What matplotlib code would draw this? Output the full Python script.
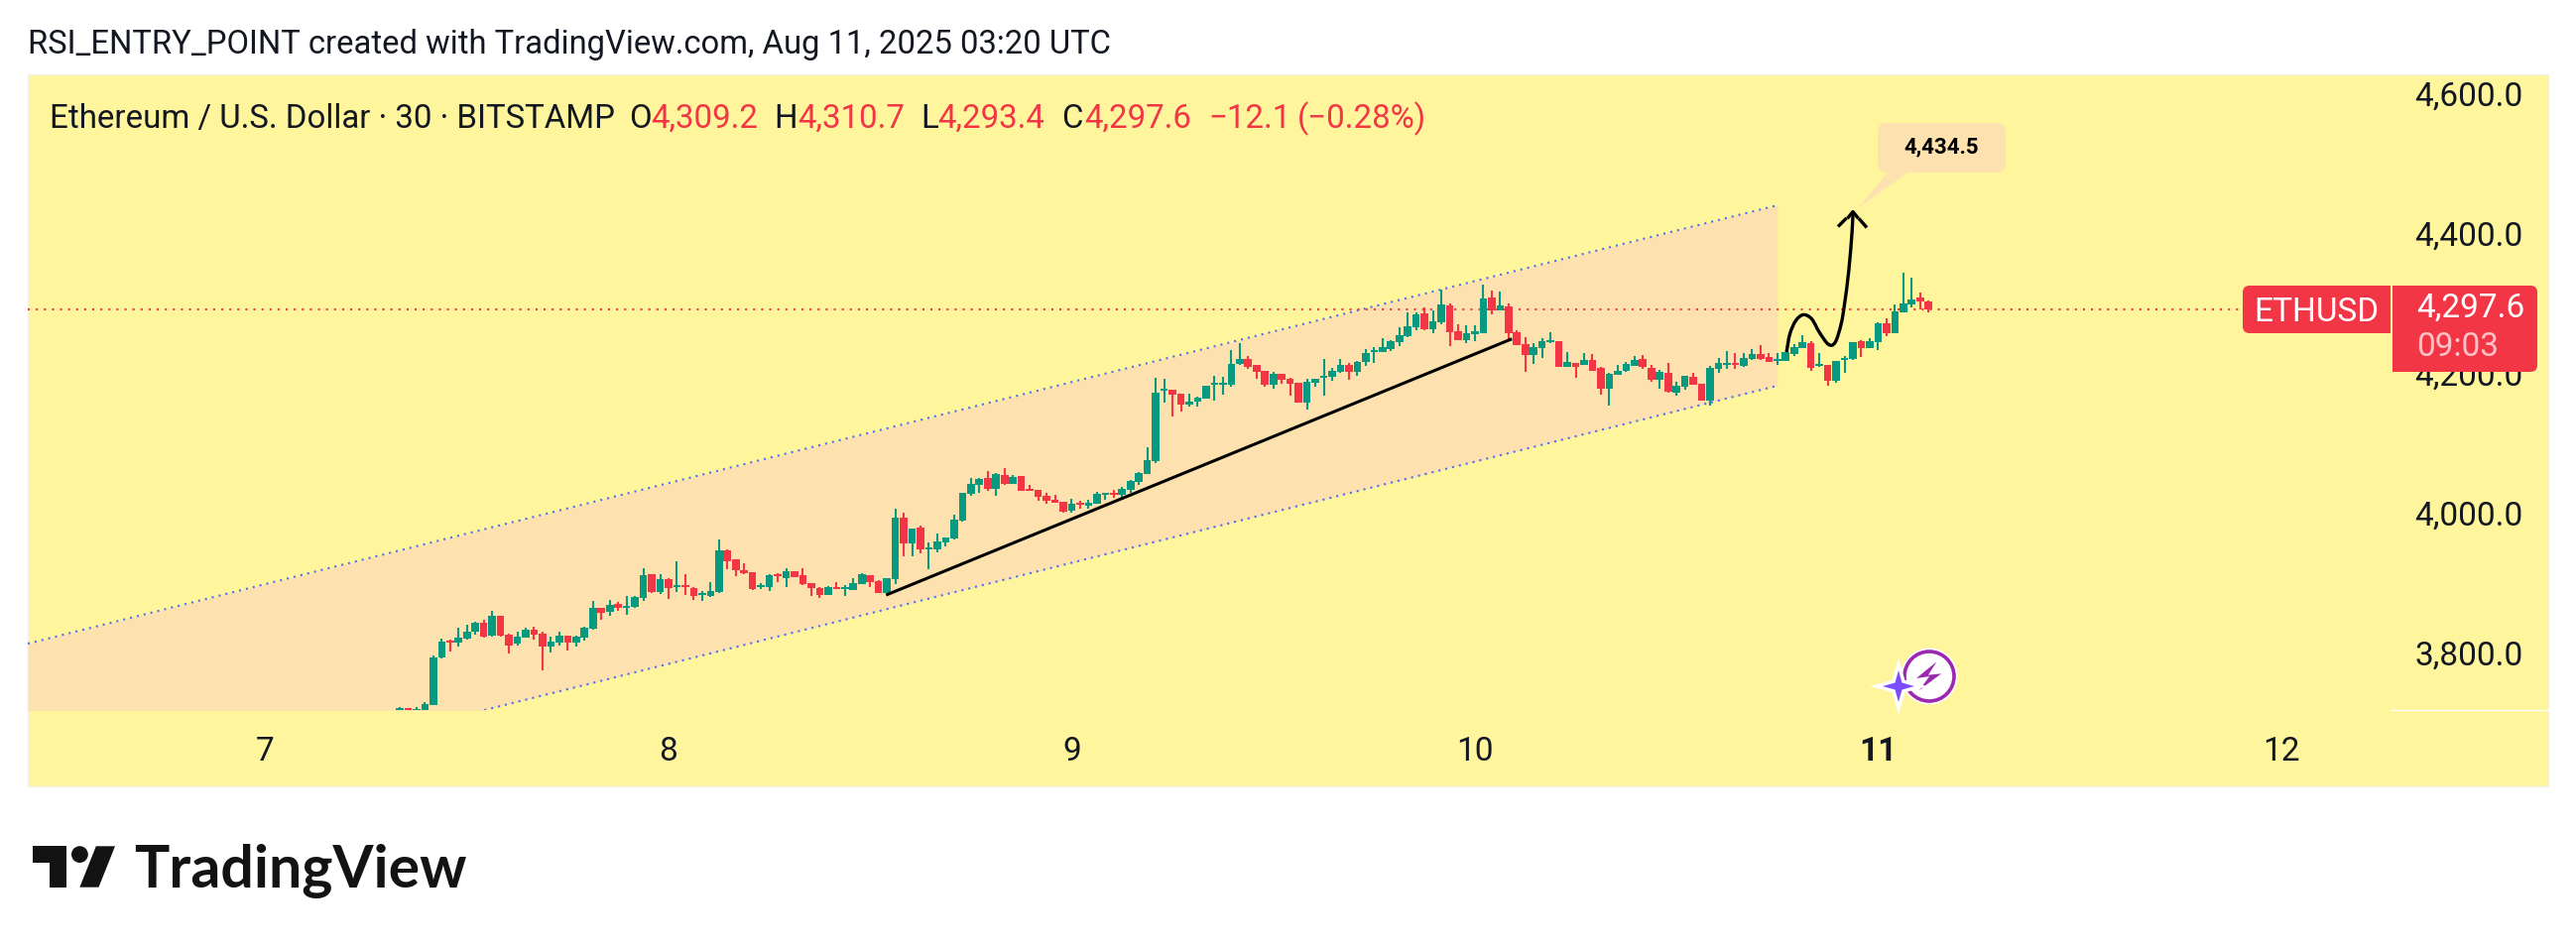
import matplotlib
matplotlib.use("Agg")
import matplotlib.pyplot as plt
import numpy as np
from matplotlib.path import Path
from matplotlib.patches import PathPatch, Polygon, Circle, Rectangle, FancyBboxPatch
from matplotlib.transforms import ScaledTranslation

plt.rcParams['font.family'] = ['Roboto', 'DejaVu Sans']

# ---------- data ----------
opens = [3723,3728,3722,3724,3732.1,3800,3824.2,3821.4,3827,3837,3849.7,3831.3,3859.7,3832.7,3820,3828.5,3839.8,3834.1,3815.7,3821.4,
3831.3,3821.4,3828.5,3841.2,3871,3865.3,3876.7,3871.5,3872.4,3885.2,3919.2,3893.7,3912.1,3900.8,3903.6,3899.3,3889.4,3888,3893.7,3953.2,
3940.4,3924.8,3922,3900.8,3900.8,3919.2,3913.5,3923.4,3917.8,3906.4,3899.3,3889.4,3900.8,3897.9,3896.5,3905,3917.8,3909.7,3892.2,
3912.1,3999.9,3963.1,3985.8,3954.6,3954.6,3964.6,3970.2,3995.7,4034,4046.8,4056.7,4041.1,4060.9,4048.2,4059.5,4041.1,4039.7,4031.2,4025.5,4022.7,
4009.9,4021.2,4017,4019.8,4032.6,4035.4,4032.6,4039.7,4051,4062.3,4080.8,4181.4,4182.8,4177.1,4161.6,4165.8,4170,4189.9,4189.9,4189.9,
4219.7,4226.7,4218.2,4209.7,4189.9,4205.5,4198.4,4192.7,4164.4,4192.7,4199.8,4201.2,4208.3,4218.2,4208.3,4222.5,4236.7,4236.7,4241,4250.8,
4259.3,4272.1,4292,4269.3,4279.2,4303.3,4266.4,4253.7,4262.2,4263.6,4314.6,4296.2,4301.9,4265,4248,4232.4,
4242.3,4250.8,4252.2,4215.4,4221,4218.2,4225.3,4214,4184.2,4204,4209.7,4216.8,4226.7,4214,4197,4206.9,4178.5,4187,4201.2,4191.3,
4167.2,4212.5,4218.2,4221,4216.8,4226.7,4233.8,4229.5,4223.9,4223.9,4233.8,4242.3,4249.4,4216.8,4218.2,4195.5,4225.3,4226.7,4252.2,4242.3,
4250.8,4277.7,4263.6,4293.3,4304.7,4314.6,4309.2]
highs = [3729,3728,3729,3736.4,3803,3826.6,3825.6,3842.6,3846.9,3851.2,3854,3866.7,3859.7,3833.7,3837,3842.6,3844.1,3837,3829.9,3837,
3831.3,3831.3,3844.1,3880.9,3871,3882.3,3879.5,3888,3888,3927.7,3919.2,3919.2,3913.5,3937.6,3919.2,3900.8,3895.1,3907.9,3968.8,3954.6,
3940.4,3934.8,3922,3906.4,3919.2,3920.6,3927.7,3923.4,3927.7,3906.4,3900.8,3902.2,3907.9,3903.6,3913.5,3920.6,3917.8,3910.7,3914,
4012.7,4007.1,3984.4,3988.6,3964.6,3977.3,3971.7,4004.2,4035.4,4056.7,4056.7,4066.6,4063.8,4070.9,4060.9,4059.5,4046.8,4039.7,4035.4,4032.6,4022.7,
4026.9,4024.1,4025.5,4036.8,4036,4039.7,4043.9,4053.8,4065.2,4100.6,4199.8,4198.4,4182.8,4177.1,4177.1,4172.9,4188.5,4202.6,4201.2,4239.5,
4249.4,4231,4218.2,4209.7,4208.3,4205.5,4199.8,4192.7,4198.4,4198.4,4226.7,4214,4226.7,4221.1,4223.9,4240.9,4243.7,4256.5,4253.7,4272.1,
4293.4,4293.4,4300.4,4296.2,4325.9,4306.1,4276.3,4274.9,4274.9,4333,4324.5,4323.1,4306.1,4267.8,4257.9,4249.4,
4256.5,4265,4252.2,4236.6,4221,4235.2,4233.8,4215.4,4206.9,4218.2,4222.5,4231,4232.4,4218.2,4211.1,4221,4194.1,4202.6,4206.9,4191.3,
4216.8,4228.1,4238,4235.2,4235.2,4240.9,4246.6,4235.2,4235.2,4236.6,4248,4260.7,4252.2,4235.2,4218.2,4223.9,4231,4250.8,4253.6,4256.5,
4279.2,4284.8,4304.7,4350,4342.9,4321.7,4310.7]
lows = [3720,3720,3720,3722,3732,3798.7,3808.6,3815.7,3825.6,3832.7,3828.5,3829.9,3829.9,3805.8,3817.1,3828,3825.6,3781.7,3807.2,3817.1,
3810,3815.7,3824.2,3839.8,3854,3859.7,3866.7,3861.1,3871,3880.9,3893,3890.8,3883.7,3893.7,3889.4,3882.3,3880.9,3886.6,3893,3926.3,
3916.3,3919.2,3896.5,3897.9,3895.1,3907.9,3900.8,3914.9,3903.6,3888,3885.2,3889,3897.9,3888,3896,3905,3900.8,3892,3892,
3905,3944.7,3944.7,3949,3926.3,3950.4,3958.9,3968.8,3994.3,4031.2,4035.4,4038.3,4031.2,4046.3,4048,4038,4038,4024.1,4019.8,4021,4007.1,
4007.1,4012.7,4012.7,4019.8,4025.5,4028.3,4026.9,4035.4,4046.8,4062,4078,4164.4,4144.5,4151.6,4158.7,4158.7,4170,4167.2,4175.7,4187.1,
4218.2,4212.6,4198.4,4187.1,4184.2,4191.3,4174.3,4164,4154.5,4187.1,4174.3,4195.6,4206.9,4197,4202.6,4216.8,4221.1,4236,4238.1,4245.2,
4257.9,4267.8,4267.8,4263.6,4276.3,4245.2,4253.7,4249.4,4252.3,4263,4290.5,4296,4252.3,4246.6,4208.3,4219.7,
4228.1,4249.4,4215,4215,4199.8,4218,4209.7,4175.7,4160.1,4204,4209,4216.8,4212.5,4194.1,4184.2,4178.5,4174.3,4182.8,4189.9,4167,
4160.1,4206.9,4212.5,4212.5,4215.4,4226,4226,4222,4218.2,4223.9,4231,4242,4209.7,4216,4188.4,4192.7,4206.9,4226,4229.5,4242,
4239.5,4259.3,4263,4293,4300.4,4297.6,4293.4]
closes = [3728,3722,3726.4,3733.5,3800.1,3822.8,3821.4,3828.5,3837,3849.7,3829.9,3859.7,3831.3,3817.1,3829.9,3839.8,3832.7,3815.7,3822.8,3831.3,
3821.4,3829.9,3842.6,3871,3863.9,3875.2,3871,3873.8,3886.6,3917.8,3893.7,3912.1,3899.3,3903.6,3900.8,3888,3892.2,3895.1,3953.2,3937.6,
3924.8,3920.6,3897.9,3903.6,3917.8,3916.3,3923.4,3914.9,3905,3899.3,3889.4,3900.8,3897.9,3900.8,3906.4,3919.2,3907.9,3892.2,3913.5,
3999.9,3963.1,3984.4,3954.6,3957.5,3966,3971.7,3997.2,4035.4,4048.2,4055.3,4041.1,4062.3,4048.2,4058.1,4038.3,4038.3,4029.8,4024.1,4021.2,4008.5,
4019.8,4018.4,4021.2,4034,4035.4,4032.6,4041.1,4052.4,4063.8,4082.2,4178.6,4184.2,4175.7,4161.6,4165.8,4171.5,4188.5,4192.7,4192.7,4219.7,
4226.7,4215.4,4208.3,4189.9,4205.5,4197,4191.3,4164.4,4194.2,4198.4,4202.6,4209.7,4218.2,4208.3,4222.5,4235.2,4239.5,4243.7,4252.3,4260.8,
4273.5,4290.5,4269.3,4280.6,4304.7,4265,4253.7,4263.6,4266.4,4313.2,4296.2,4303.3,4263.6,4246.6,4232.4,4243.7,
4252.2,4253.6,4215.4,4222.5,4215.4,4225.3,4209.7,4184.2,4205.5,4209.7,4219.6,4225.3,4215.4,4197,4208.3,4179.9,4188.4,4202.6,4189.9,4167.2,
4213.9,4221,4221,4218.2,4228.1,4233.8,4226.7,4222.5,4226.7,4236.6,4243.7,4250.8,4214,4219.6,4195.5,4223.9,4228.1,4250.8,4242.3,4252.2,
4277.7,4263.6,4294.7,4306,4311.7,4308.9,4297.6]

day_labels = ['7', '8', '9', '10', '11', '12']
bars_per_day = 48
first_day_bar = -16
price_ticks = [3800, 4000, 4200, 4400, 4600]

channel_x = [-44.28, 164]
channel_upper = [3820, 4446.4]
channel_lower = [3561.3, 4188.5]
trend_x = [57.9, 132.4]
trend_y = [3889.4, 4255.5]
curve_x = [165.1,165.5,166.2,167.1,168.1,169.0,170.1,170.9,171.6,172.0,172.5,172.9,173.0]
curve_y = [4236.6,4262.6,4281.5,4290,4283.9,4265,4247.5,4250.8,4276.8,4305.1,4352.4,4409,4437.4]
last_price = 4297.6

GREEN, RED = '#089981', '#F23645'
YELLOW, PEACH = '#FFF59D', '#FDE1AE'
INK = '#131722'
W, H = 2597, 958

fig = plt.figure(figsize=(W/100, H/100), dpi=100, facecolor='white')
L, R, T, B = 28, 2410, 75, 715.7

# yellow card behind everything
card = fig.add_axes([0, 0, 1, 1], zorder=0); card.set_xlim(0, W); card.set_ylim(H, 0); card.axis('off')
card.add_patch(Rectangle((L, T), 2569-L, 792.5-T, fc=YELLOW, ec='#F0F0EC', lw=1))

ax = fig.add_axes([L/W, 1-B/H, (R-L)/W, (B-T)/H], zorder=1)
ax.patch.set_alpha(0)
for s in ax.spines.values():
    s.set_visible(False)
ax.set_xlim(-44.28, 237.0)
ax.set_ylim(3725.5, 4633.5)

# channel
ax.fill_between(channel_x, channel_lower, channel_upper, color=PEACH, lw=0, zorder=1)
for ys in (channel_upper, channel_lower):
    ax.plot(channel_x, ys, color='#4B70F0', lw=1.5, ls=(0, (1, 2.4)), zorder=2)

# last price line
ax.plot([-44.28, 219.4], [last_price, last_price], color=RED, lw=1.5, ls=(0, (1, 2.9)), zorder=2)

# candles
idx = np.arange(len(closes))
o, h, l, c = map(np.array, (opens, highs, lows, closes))
cols = np.where(c >= o, GREEN, RED)
ax.vlines(idx, l, h, colors=cols, lw=1.5, zorder=3)
ax.bar(idx, np.abs(c-o), bottom=np.minimum(o, c), width=0.9, color=cols, lw=0, zorder=3)

# trend line
ax.plot(trend_x, trend_y, color='black', lw=2.2, solid_capstyle='butt', zorder=4)

# hand drawn curve with arrow
pts = np.column_stack([curve_x, curve_y])
verts = [pts[0]]; codes = [Path.MOVETO]
for i in range(len(pts)-1):
    p0 = pts[max(i-1, 0)]; p1 = pts[i]; p2 = pts[i+1]; p3 = pts[min(i+2, len(pts)-1)]
    verts += [p1+(p2-p0)/6, p2-(p3-p1)/6, p2]; codes += [Path.CURVE4]*3
ax.add_patch(PathPatch(Path(verts, codes), fc='none', ec='black', lw=2.4, zorder=5))

# axes ticks
ax.yaxis.tick_right()
ax.set_yticks(price_ticks)
ax.set_yticklabels([f'{p:,.1f}' for p in price_ticks], fontsize=24, color=INK)
ax.tick_params(axis='y', length=0, pad=17.6)
ax.set_xticks([first_day_bar + bars_per_day*k for k in range(len(day_labels))])
ax.set_xticklabels(day_labels, fontsize=24, color=INK)
ax.tick_params(axis='x', length=0, pad=19)
ax.get_xticklabels()[4].set_fontweight('bold')
lift = ScaledTranslation(0, 4.5/100, fig.dpi_scale_trans)
for t in ax.get_yticklabels():
    t.set_transform(t.get_transform() + lift)
    t.set_clip_on(False)

# overlay for page furniture
ov = fig.add_axes([0, 0, 1, 1], zorder=2); ov.set_xlim(0, W); ov.set_ylim(H, 0); ov.axis('off')
ov.plot([R, 2569], [715.5, 715.5], color='white', lw=1)

# arrow head (broken strokes)
tip = (1868, 213.5)
for dx, dy in [(-15, 15), (14, 16)]:
    ov.plot([tip[0]+dx*0.42, tip[0]+dx], [tip[1]+dy*0.42, tip[1]+dy], color='black', lw=2.4, solid_capstyle='butt')
ov.plot([tip[0]-4.5, tip[0], tip[0]+4.5], [tip[1]+5.5, tip[1], tip[1]+5.5], color='black', lw=2.4)

# title + legend
ov.text(28.5, 54, 'RSI_ENTRY_POINT created with TradingView.com, Aug 11, 2025 03:20 UTC',
        fontsize=23.6, color=INK, va='baseline', ha='left')
legend = [(50, 'Ethereum / U.S. Dollar · 30 · BITSTAMP', INK), (634, 'O', INK), (656, '4,309.2', RED),
          (780, 'H', INK), (804, '4,310.7', RED), (928, 'L', INK), (945, '4,293.4', RED),
          (1070, 'C', INK), (1093, '4,297.6', RED), (1218, '−12.1', RED), (1308, '(−0.28%)', RED)]
for x, s, col in legend:
    ov.text(x, 129, s, fontsize=23.8, color=col, va='baseline', ha='left')

# callout
ov.add_patch(FancyBboxPatch((1901, 132), 113, 34, boxstyle='round,pad=8,rounding_size=9', fc=PEACH, ec='none'))
ov.add_patch(Polygon([(1905, 172), (1926, 172), (1873, 210)], closed=True, fc=PEACH, ec='none'))
ov.text(1957, 148, '4,434.5', fontsize=16, fontweight='bold', color='black', ha='center', va='center')

# price tags
def tag(x0, x1, y0, y1, left):
    r = 7
    if left:
        v = [(x1, y0), (x0+r, y0), (x0, y0), (x0, y0+r), (x0, y1-r), (x0, y1), (x0+r, y1), (x1, y1), (x1, y0)]
    else:
        v = [(x0, y0), (x1-r, y0), (x1, y0), (x1, y0+r), (x1, y1-r), (x1, y1), (x1-r, y1), (x0, y1), (x0, y0)]
    cd = [Path.MOVETO, Path.LINETO, Path.CURVE3, Path.CURVE3, Path.LINETO, Path.CURVE3, Path.CURVE3, Path.LINETO, Path.CLOSEPOLY]
    ov.add_patch(PathPatch(Path(v, cd), fc=RED, ec='none'))
tag(2261, 2410, 288, 336, True)
tag(2412, 2558, 288, 375, False)
ov.text(2335, 324, 'ETHUSD', fontsize=24, color='white', ha='center', va='baseline')
ov.text(2436, 320, '4,297.6', fontsize=24, color='white', ha='left', va='baseline')
ov.text(2436, 359, '09:03', fontsize=24, color='#FFC2C7', ha='left', va='baseline')

# icon
ov.add_patch(Circle((1945, 682), 28.5, fc='white', ec='none'))
ov.add_patch(Circle((1945, 682), 25, fc='none', ec='#9C27B0', lw=2.6))
ov.add_patch(Polygon([(1952.4, 667.3), (1932, 684), (1945.3, 682), (1934.8, 696), (1957.2, 679.3), (1943.9, 680.7)], closed=True, fc='#9C27B0', ec='none'))
def star(cx, cy, r, **kw):
    q = 0.22*r
    v = [(cx, cy-r), (cx+q, cy-q), (cx+r, cy), (cx+q, cy+q), (cx, cy+r), (cx-q, cy+q), (cx-r, cy), (cx-q, cy-q)]
    ov.add_patch(Polygon(v, closed=True, **kw))
star(1914, 692, 21, fc='white', ec='white', lw=3)
star(1914, 692, 16, fc='#7C4DFF', ec='none')

# logo
DARK = '#131313'
ov.add_patch(Polygon([(33.3, 853.3), (67, 853.3), (67, 894.7), (50.1, 894.7), (50.1, 870), (33.3, 870)], closed=True, fc=DARK, ec='none'))
ov.add_patch(Circle((80.4, 861.6), 8.4, fc=DARK, ec='none'))
ov.add_patch(Polygon([(96.8, 853.3), (116, 853.3), (99.5, 894.7), (80.4, 894.7)], closed=True, fc=DARK, ec='none'))
ov.text(135, 894.7, 'TradingView', fontsize=42.5, fontweight='bold', family=['Lato', 'DejaVu Sans'], color=DARK, ha='left', va='baseline')

fig.savefig('out.png', dpi=100)
